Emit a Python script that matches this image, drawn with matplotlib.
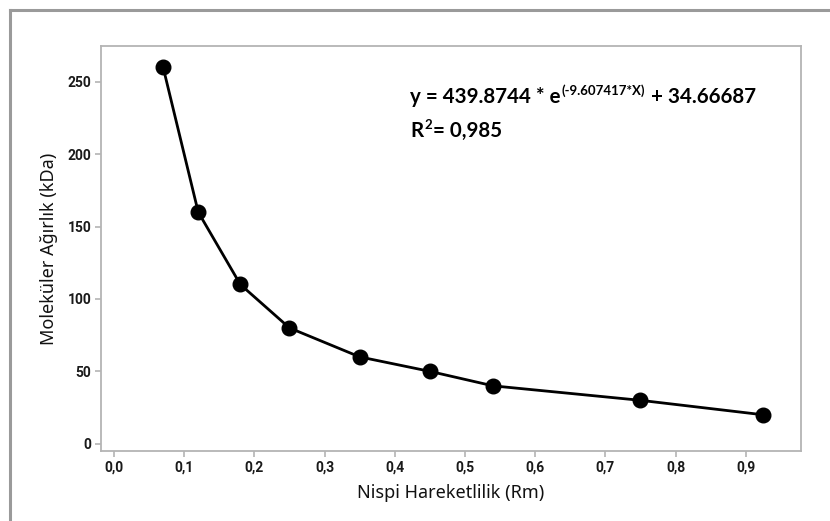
import matplotlib
matplotlib.use("Agg")
import matplotlib.pyplot as plt
from matplotlib.lines import Line2D

# Data
rm = [0.07, 0.12, 0.18, 0.25, 0.35, 0.45, 0.54, 0.75, 0.925]
mw = [260, 160, 110, 80, 60, 50, 40, 30, 20]
xticks = [0.0, 0.1, 0.2, 0.3, 0.4, 0.5, 0.6, 0.7, 0.8, 0.9]
xticklabels = ["0,0", "0,1", "0,2", "0,3", "0,4", "0,5", "0,6", "0,7", "0,8", "0,9"]
yticks = [0, 50, 100, 150, 200, 250]

W, H = 830, 521
fig = plt.figure(figsize=(W / 100, H / 100), dpi=100)
fig.patch.set_facecolor("white")

# outer frame (top and left edges visible)
fig.add_artist(Line2D([10 / W, 1.0], [1 - 10 / H, 1 - 10 / H], color="#9a9a9a", lw=2.2, transform=fig.transFigure))
fig.add_artist(Line2D([10 / W, 10 / W], [0.0, 1 - 10 / H], color="#9a9a9a", lw=2.2, transform=fig.transFigure))

left, right, top, bottom = 101, 800.5, 46, 451
ax = fig.add_axes([left / W, 1 - bottom / H, (right - left) / W, (bottom - top) / H])

ax.plot(rm, mw, color="black", lw=2, marker="o", markersize=10.5, markerfacecolor="black", markeredgecolor="black")

ax.set_xlim(-0.0185, 0.978)
ax.set_ylim(-5, 274.7)
tick_font = dict(fontfamily="Roboto", fontsize=10, fontweight="bold", color="#1a1a1a")
ax.set_xticks(xticks)
ax.set_xticklabels(xticklabels, **tick_font)
ax.set_yticks(yticks)
ax.set_yticklabels([str(v) for v in yticks], **tick_font)

for s in ax.spines.values():
    s.set_color("#b4b4b4")
    s.set_linewidth(1.3)
ax.tick_params(axis="both", colors="#b4b4b4", labelcolor="#1a1a1a", length=4, width=1.2, direction="out", pad=3)

ax.set_xlabel("Nispi Hareketlilik (Rm)", fontfamily="Noto Sans", fontsize=13, color="#111111", labelpad=7)
ax.set_ylabel("Moleküler Ağırlık (kDa)", fontfamily="Noto Sans", fontsize=13, color="#111111", labelpad=7)

# equation text built from pieces
renderer = fig.canvas.get_renderer()
fs_main, fs_sup = 14.8, 9.5
kw = dict(fontfamily="Lato", fontweight="bold", color="black", va="baseline", ha="left")

def piece(x_px, y_px, s, fs):
    t = fig.text(x_px / W, 1 - y_px / H, s, fontsize=fs, **kw)
    bb = t.get_window_extent(renderer)
    return bb.x1

x = piece(410, 103, "y = 439.8744 * e", fs_main)
x = piece(x + 1, 95, "(-9.607417*X)", fs_sup)
piece(x + 1, 103, " + 34.66687", fs_main)

x = piece(410, 137, "R", fs_main)
x = piece(x + 1, 129, "2", fs_sup)
piece(x + 1, 137, "= 0,985", fs_main)

fig.savefig("out.png", dpi=100, facecolor="white")
